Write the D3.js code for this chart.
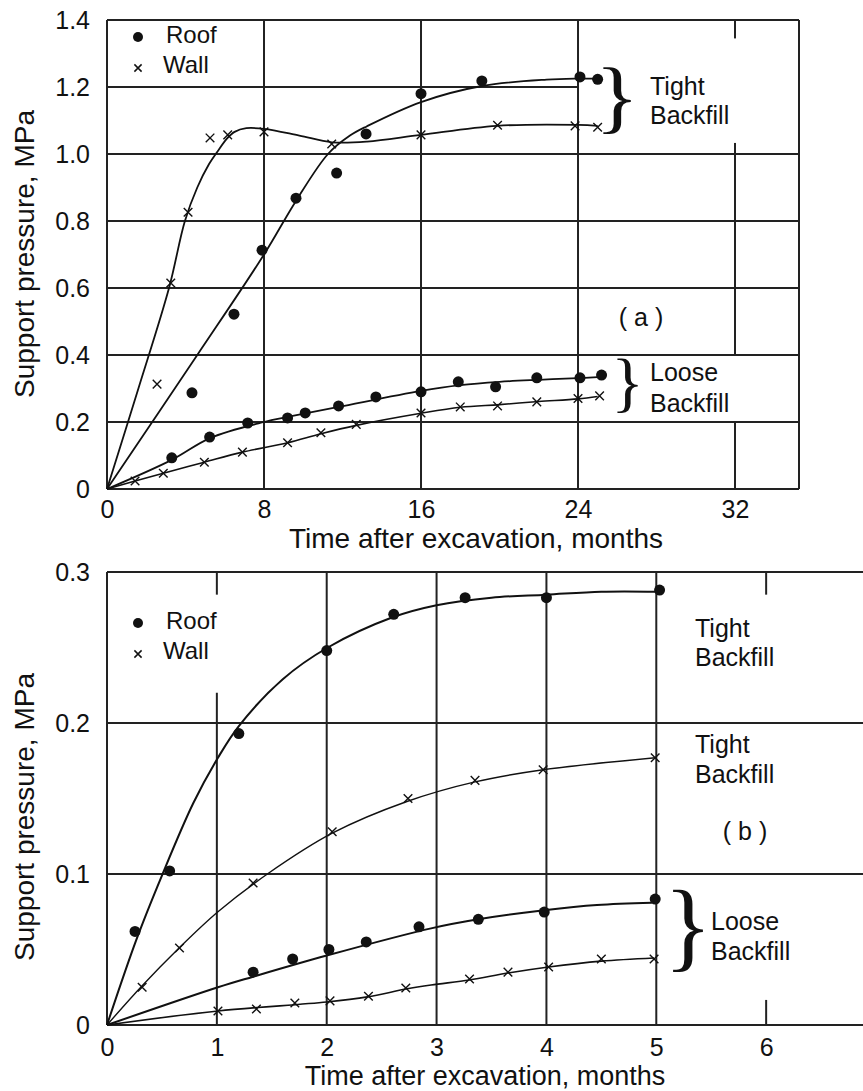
<!DOCTYPE html>
<html>
<head>
<meta charset="utf-8">
<script src="https://cdn.jsdelivr.net/npm/d3@7"></script>
<style>
  body { margin: 0; background: #fff; }
  svg { display: block; }
</style>
</head>
<body>
<script>
// ---- panel (a): months 0..32 ----
const aXTicks = [0, 8, 16, 24, 32];
const aYTicks = [0, 0.2, 0.4, 0.6, 0.8, 1.0, 1.2, 1.4];

// measured points [month, MPa]
const aTightRoof = [[4.33, 0.287], [6.47, 0.522], [7.9, 0.713], [9.63, 0.868], [11.7, 0.943], [13.2, 1.06], [16, 1.18], [19.1, 1.218], [24.1, 1.23], [25.0, 1.223]];
const aTightWall = [[2.55, 0.313], [3.25, 0.615], [4.13, 0.826], [5.25, 1.048], [6.15, 1.057], [8.0, 1.066], [11.45, 1.03], [16, 1.057], [19.9, 1.086], [23.85, 1.084], [25.0, 1.08]];
const aLooseRoof = [[3.3, 0.093], [5.23, 0.155], [7.17, 0.197], [9.2, 0.212], [10.1, 0.227], [11.8, 0.248], [13.7, 0.275], [16, 0.29], [17.9, 0.32], [19.8, 0.305], [21.9, 0.332], [24.1, 0.332], [25.2, 0.34]];
const aLooseWall = [[1.43, 0.024], [2.87, 0.047], [4.96, 0.08], [6.9, 0.11], [9.2, 0.138], [10.9, 0.168], [12.7, 0.193], [16, 0.227], [18, 0.245], [19.9, 0.248], [21.9, 0.26], [24, 0.27], [25.1, 0.278]];

// hand-drawn fitted curves
const aTightRoofFit = [[0, 0], [4.6, 0.4], [8, 0.7], [9.63, 0.86], [11.26, 1.0], [12.38, 1.055], [13.25, 1.083], [16, 1.155], [19.1, 1.203], [22.4, 1.222], [24, 1.225], [25, 1.225]];
const aTightWallFit = [[0, 0], [1.6, 0.3], [3.16, 0.6], [3.97, 0.8], [4.6, 0.9], [5.2, 0.97], [5.66, 1.01], [6.1, 1.045], [6.5, 1.066], [7.1, 1.077], [8.0, 1.075], [9.8, 1.055], [11.46, 1.035], [13.25, 1.037], [16, 1.057], [19.87, 1.084], [24, 1.087], [25, 1.084]];
const aLooseRoofFit = [[0, 0], [3.3, 0.087], [5.25, 0.152], [8, 0.2], [9.2, 0.215], [11.8, 0.245], [16, 0.293], [18, 0.31], [20, 0.32], [22, 0.326], [24, 0.331], [25, 0.334]];
const aLooseWallFit = [[0, 0], [1.43, 0.024], [2.87, 0.047], [4.96, 0.08], [6.9, 0.11], [9.2, 0.138], [10.9, 0.165], [12.7, 0.19], [16, 0.226], [18, 0.244], [20, 0.252], [22, 0.261], [24, 0.269], [25, 0.276]];

// ---- panel (b): months 0..6 ----
const bXTicks = [0, 1, 2, 3, 4, 5, 6];
const bYTicks = [0, 0.1, 0.2, 0.3];

const bTightRoof = [[0.255, 0.062], [0.57, 0.102], [1.2, 0.193], [2.0, 0.248], [2.61, 0.272], [3.26, 0.283], [4.0, 0.283], [5.03, 0.288]];
const bTightWall = [[0.32, 0.025], [0.66, 0.051], [1.33, 0.094], [2.05, 0.128], [2.74, 0.15], [3.35, 0.162], [3.97, 0.169], [4.99, 0.177]];
const bLooseRoof = [[1.33, 0.035], [1.69, 0.0437], [2.02, 0.05], [2.36, 0.055], [2.84, 0.065], [3.38, 0.07], [3.98, 0.0748], [4.99, 0.0834]];
const bLooseWall = [[1.01, 0.0093], [1.36, 0.0106], [1.71, 0.0146], [2.03, 0.016], [2.38, 0.019], [2.72, 0.0245], [3.3, 0.0305], [3.65, 0.035], [4.02, 0.0384], [4.5, 0.0437], [4.98, 0.0437]];

const bTightRoofFit = [[0, 0], [0.27, 0.057], [0.5, 0.099], [0.786, 0.147], [1.01, 0.177], [1.2, 0.198], [1.6, 0.229], [2.01, 0.25], [2.6, 0.27], [3.0, 0.278], [3.5, 0.283], [4.0, 0.285], [4.5, 0.287], [5.0, 0.287]];
const bTightWallFit = [[0, 0], [0.32, 0.026], [0.656, 0.051], [1.01, 0.075], [1.46, 0.1], [2.05, 0.127], [2.73, 0.148], [3.35, 0.161], [3.97, 0.169], [4.99, 0.177]];
const bLooseRoofFit = [[0, 0], [1.01, 0.025], [1.33, 0.032], [2.0, 0.046], [2.95, 0.064], [3.38, 0.07], [3.98, 0.076], [4.46, 0.0795], [4.96, 0.081]];
const bLooseWallFit = [[0, 0], [1.01, 0.0093], [2.0, 0.0152], [2.37, 0.0186], [2.72, 0.0238], [2.95, 0.0265], [3.3, 0.0298], [3.65, 0.0344], [4.02, 0.0384], [4.5, 0.0423], [4.98, 0.0444]];

const yTitle = "Support pressure, MPa";
const xTitle = "Time after excavation, months";

((global) => {
  const d3 = global.d3;
  const FONT = '"Liberation Sans", Arial, Helvetica, sans-serif';
  const INK = "#111";
  const GRID = "#222";

  const svg = d3.select("body").append("svg").attr("width", 863).attr("height", 1091);

  // curly brace from a serif glyph, stretched to a box
  const brace = (g, x0, y0, y1, w) => {
    const fs = (y1 - y0) / 0.861;
    const sx = w / (0.25 * fs);
    g.append("text")
      .attr("transform", `translate(${x0 - 0.13 * fs * sx},${y0 + 0.68 * fs}) scale(${sx},1)`)
      .attr("font-family", '"Liberation Serif", "Times New Roman", serif')
      .attr("font-size", fs)
      .attr("fill", INK)
      .text("}");
  };

  const label = (g, x, y, txt, size, anchor) =>
    g.append("text")
      .attr("x", x).attr("y", y)
      .attr("font-family", FONT).attr("font-size", size)
      .attr("text-anchor", anchor || "start")
      .attr("fill", INK).text(txt);

  const cross = (g, cx, cy, r, sw) =>
    g.append("path")
      .attr("d", `M${cx - r},${cy - r}L${cx + r},${cy + r}M${cx - r},${cy + r}L${cx + r},${cy - r}`)
      .attr("stroke", INK).attr("stroke-width", sw).attr("fill", "none");

  const drawPanel = (p) => {
    const x = d3.scaleLinear().domain(p.xDomain).range([p.left, p.right]);
    const y = d3.scaleLinear().domain(p.yDomain).range([p.bottom, p.top]);
    const g = svg.append("g");
    const [y0, y1] = p.yDomain;
    const [x0, x1] = p.xDomain;

    const seg = (xa, ya, xb, yb) =>
      g.append("line")
        .attr("x1", x(xa)).attr("y1", y(ya)).attr("x2", x(xb)).attr("y2", y(yb))
        .attr("stroke", GRID).attr("stroke-width", 2);

    // grid
    p.hGrid.forEach((h) => seg(x0, h.v, h.to === undefined ? x1 : h.to, h.v));
    p.vGrid.forEach((v) => (v.segs || [[y1, y0]]).forEach(([a, b]) => seg(v.v, a, v.v, b)));

    // frame
    seg(x0, y0, x1, y0);
    seg(x0, y1, x1, y1);
    seg(x0, y0, x0, y1);
    if (p.rightBorder) seg(x1, y0, x1, y1);

    // axes (labels only)
    const ax = g.append("g")
      .attr("transform", `translate(0,${p.bottom})`)
      .call(d3.axisBottom(x).tickValues(p.xTicks).tickSize(0).tickPadding(p.xPad).tickFormat(d3.format("d")));
    const ay = g.append("g")
      .attr("transform", `translate(${p.left},0)`)
      .call(d3.axisLeft(y).tickValues(p.yTicks).tickSize(0).tickPadding(17)
        .tickFormat((d) => (d === 0 ? "0" : d3.format(".1f")(d))));
    [ax, ay].forEach((a) => {
      a.select(".domain").remove();
      a.attr("font-family", FONT).attr("font-size", 25);
      a.selectAll("text").attr("fill", INK);
    });

    // titles
    label(g, p.xTitleX, p.xTitleY, xTitle, p.xTitleSize, "middle");
    g.append("text")
      .attr("transform", `translate(34,${p.yTitleY}) rotate(-90)`)
      .attr("font-family", FONT).attr("font-size", 28)
      .attr("text-anchor", "middle").attr("fill", INK)
      .text(yTitle);

    // fitted curves
    const line = d3.line().x((d) => x(d[0])).y((d) => y(d[1])).curve(d3.curveCatmullRom.alpha(0.5));
    p.fits.forEach((f) =>
      g.append("path").datum(f.data).attr("d", line)
        .attr("fill", "none").attr("stroke", INK).attr("stroke-width", f.w));

    // points
    p.roofs.forEach((s) =>
      g.append("g").selectAll("circle").data(s).join("circle")
        .attr("cx", (d) => x(d[0])).attr("cy", (d) => y(d[1])).attr("r", 5.5).attr("fill", INK));
    p.walls.forEach((s) => s.forEach((d) => cross(g, x(d[0]), y(d[1]), 4.3, 1.4)));

    // legend
    g.append("circle").attr("cx", 138).attr("cy", p.legendY).attr("r", 5).attr("fill", INK);
    label(g, 166, p.legendY + 6, "Roof", 24);
    cross(g, 138, p.legendY + 31, 3.6, 1.5);
    label(g, 163, p.legendY + 36, "Wall", 24);

    p.notes.forEach((n) => label(g, n[0], n[1], n[2], 25, n[3]));
    p.braces.forEach((b) => brace(g, b[0], b[1], b[2], b[3]));
  };

  drawPanel({
    left: 107, right: 799, top: 20, bottom: 489,
    xDomain: [0, 35.26], yDomain: [0, 1.4],
    xTicks: aXTicks, yTicks: aYTicks, xPad: 11, rightBorder: true,
    hGrid: [{ v: 0.2 }, { v: 0.4 }, { v: 0.6 }, { v: 0.8 }, { v: 1.0 }, { v: 1.2, to: 24 }],
    vGrid: [{ v: 8 }, { v: 16 }, { v: 24 }, { v: 32, segs: [[1.4, 1.345], [1.033, 0.403], [0.2, 0]] }],
    xTitleX: 476, xTitleY: 548, xTitleSize: 28, yTitleY: 254,
    fits: [
      { data: aTightRoofFit, w: 1.8 },
      { data: aTightWallFit, w: 1.8 },
      { data: aLooseRoofFit, w: 1.8 },
      { data: aLooseWallFit, w: 1.6 },
    ],
    roofs: [aTightRoof, aLooseRoof],
    walls: [aTightWall, aLooseWall],
    legendY: 37,
    notes: [[650, 95, "Tight"], [650, 124, "Backfill"], [641, 326, "( a )", "middle"], [650, 381, "Loose"], [650, 412, "Backfill"]],
    braces: [[607, 68, 138, 23], [620, 360, 416, 17]],
  });

  drawPanel({
    left: 107, right: 876, top: 572, bottom: 1025,
    xDomain: [0, 7], yDomain: [0, 0.3],
    xTicks: bXTicks, yTicks: bYTicks, xPad: 13, rightBorder: false,
    hGrid: [{ v: 0.1 }, { v: 0.2 }],
    vGrid: [{ v: 1, segs: [[0.3, 0.285], [0.22, 0]] }, { v: 2 }, { v: 3 }, { v: 4 }, { v: 5 }, { v: 6, segs: [[0.3, 0.285], [0.0166, 0]] }],
    xTitleX: 485, xTitleY: 1085, xTitleSize: 27, yTitleY: 817,
    fits: [
      { data: bTightRoofFit, w: 2 },
      { data: bTightWallFit, w: 1.4 },
      { data: bLooseRoofFit, w: 2 },
      { data: bLooseWallFit, w: 1.6 },
    ],
    roofs: [bTightRoof, bLooseRoof],
    walls: [bTightWall, bLooseWall],
    legendY: 623,
    notes: [[695, 637, "Tight"], [695, 666, "Backfill"], [695, 753, "Tight"], [695, 783, "Backfill"], [745, 840, "( b )", "middle"], [711, 930, "Loose"], [711, 960, "Backfill"]],
    braces: [[677, 891, 977, 25]],
  });
})(this);
</script>
</body>
</html>
